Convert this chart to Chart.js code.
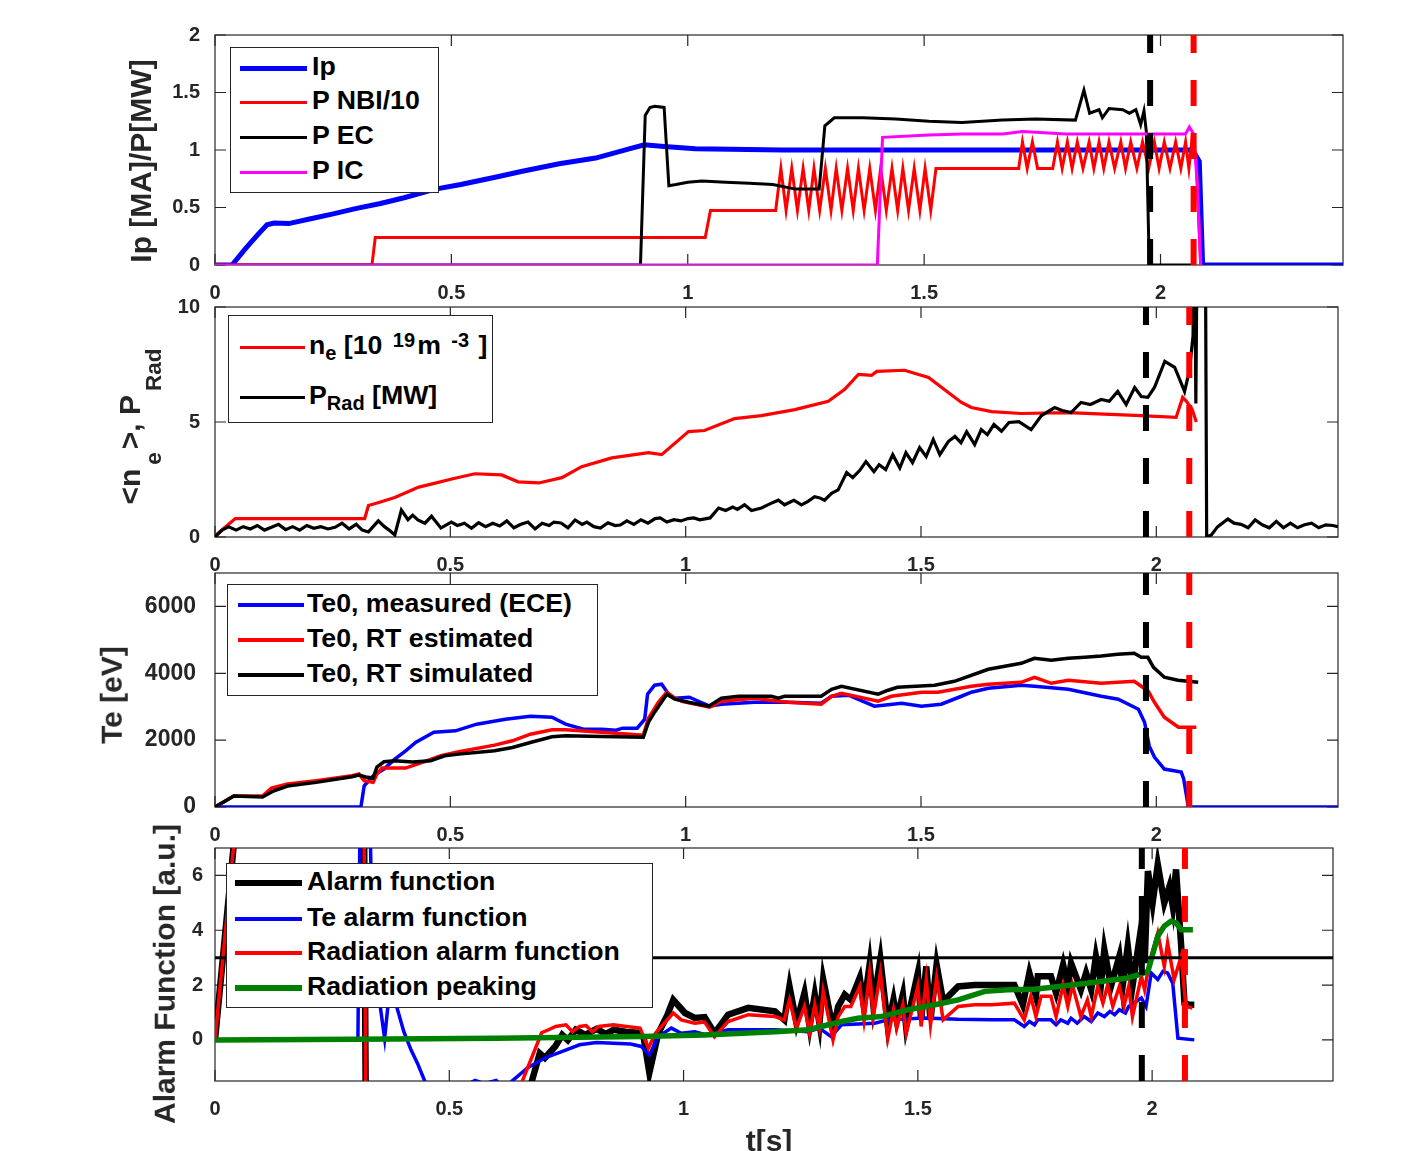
<!DOCTYPE html>
<html>
<head>
<meta charset="utf-8">
<script src="https://cdn.jsdelivr.net/npm/chart.js@4.4.1/dist/chart.umd.min.js"></script>
<style>
  body { margin: 0; background: #fff; width: 1409px; height: 1151px; overflow: hidden; position: relative;
         font-family: "Liberation Sans", Arial, Helvetica, sans-serif; }
  canvas { position: absolute; left: 0; }
  .legend { position: absolute; background: #fff; border: 1.5px solid #262626; box-sizing: border-box; z-index: 5; }
  .swatch { position: absolute; z-index: 6; }
  .row { position: absolute; z-index: 6; height: 34px; line-height: 34px; font-weight: bold; font-size: 26.7px;
         color: #000; white-space: nowrap; }
  .row sub, .row sup { font-size: 0.75em; position: relative; vertical-align: baseline; line-height: 0; }
  .row sub { top: 0.32em; }
  .row sup { top: -0.34em; margin: 0 2px 0 3px; }
  .title { position: absolute; font-weight: bold; font-size: 30px; line-height: 1.15; color: #262626;
           white-space: nowrap; transform: translate(-50%, -50%) rotate(-90deg); z-index: 4; }
  .title sub { font-size: 0.75em; position: relative; vertical-align: baseline; top: 0.95em; line-height: 0;
               margin: 0 3px 0 4px; }
  .xtitle { position: absolute; font-weight: bold; font-size: 30px; line-height: 1.15; color: #262626;
            white-space: nowrap; transform: translateX(-50%); }
</style>
</head>
<body>
<canvas id="p1" width="1409" height="305" style="top:0px"></canvas>
<canvas id="p2" width="1409" height="313" style="top:267px"></canvas>
<canvas id="p3" width="1409" height="317" style="top:533px"></canvas>
<canvas id="p4" width="1409" height="343" style="top:808px"></canvas>
<script>
// ---- data: [t (s), value] ----
const tMax = 2.386;
const xTicks = [0, 0.5, 1, 1.5, 2];
const xTickLabels = ['0', '0.5', '1', '1.5', '2'];
const alarmTime = 1.978;      // black dashed
const disruptTime = 2.07;     // red dashed

// panel 1
const p1Ticks = [0, 0.5, 1, 1.5, 2];
const ipData = [[0,0],[0.036,0],[0.064,0.14],[0.092,0.27],[0.11,0.35],[0.125,0.365],[0.156,0.36],[0.2,0.4],
  [0.25,0.445],[0.297,0.49],[0.35,0.535],[0.4,0.585],[0.466,0.66],[0.52,0.7],[0.6,0.77],[0.65,0.815],
  [0.728,0.88],[0.805,0.93],[0.876,1.01],[0.908,1.045],[0.95,1.03],[1.016,1.01],[1.2,1.0],[1.4,1.0],
  [1.6,1.0],[1.8,1.0],[2.0,1.0],[2.068,1.0],[2.082,0.9],[2.089,0],[2.386,0]];
const nbiData = [[0,0],[0.332,0],[0.339,0.24],[1.037,0.24],[1.048,0.475],[1.186,0.475],
  [1.197,0.84],[1.208,0.475],[1.220,0.84],[1.232,0.475],[1.244,0.84],[1.256,0.475],[1.267,0.84],[1.279,0.475],
  [1.291,0.84],[1.303,0.475],[1.314,0.84],[1.326,0.475],[1.338,0.84],[1.350,0.475],[1.361,0.84],[1.373,0.475],
  [1.385,0.84],[1.397,0.475],[1.408,0.84],[1.420,0.475],[1.432,0.84],[1.444,0.475],[1.455,0.84],[1.467,0.475],
  [1.479,0.84],[1.491,0.475],[1.502,0.84],[1.514,0.475],[1.525,0.84],[1.700,0.84],
  [1.708,1.07],[1.718,0.84],[1.729,1.07],[1.740,0.84],[1.772,0.84],[1.782,1.07],[1.792,0.84],[1.803,1.07],
  [1.813,0.84],[1.824,1.07],[1.836,0.84],[1.849,1.07],[1.859,0.84],[1.870,1.07],[1.880,0.84],[1.891,1.07],
  [1.903,0.84],[1.916,1.07],[1.926,0.84],[1.937,1.07],[1.950,0.84],[1.962,1.07],[1.975,0.84],[1.987,1.07],
  [1.997,0.84],[2.008,1.07],[2.020,0.84],[2.032,1.07],[2.043,0.84],[2.053,1.07],[2.060,0.84],[2.066,1.07],
  [2.075,0.95],[2.085,0]];
const ecData = [[0,0],[0.9,0],[0.91,1.3],[0.92,1.37],[0.93,1.38],[0.95,1.37],[0.96,0.69],[0.975,0.7],
  [1.0,0.72],[1.03,0.73],[1.08,0.72],[1.13,0.71],[1.18,0.7],[1.228,0.66],[1.278,0.66],[1.29,1.21],
  [1.31,1.28],[1.37,1.28],[1.44,1.27],[1.51,1.25],[1.58,1.24],[1.666,1.26],[1.736,1.27],[1.82,1.26],
  [1.838,1.52],[1.85,1.32],[1.87,1.35],[1.877,1.28],[1.891,1.36],[1.92,1.35],[1.934,1.32],[1.948,1.35],
  [1.958,1.22],[1.965,1.34],[1.97,1.16],[1.976,0.03],[1.98,0],[2.07,0]];
const icData = [[0,0],[1.401,0],[1.412,1.11],[1.51,1.13],[1.58,1.14],[1.666,1.14],[1.708,1.16],[1.8,1.14],
  [1.9,1.14],[2.053,1.14],[2.061,1.2],[2.07,1.14],[2.078,0.69],[2.085,0]];

// panel 2
const p2Ticks = [0, 5, 10];
const neData = [[0,0.05],[0.043,0.8],[0.318,0.8],[0.326,1.37],[0.348,1.5],[0.382,1.72],[0.433,2.17],[0.468,2.34],
  [0.503,2.52],[0.552,2.75],[0.609,2.7],[0.644,2.4],[0.688,2.35],[0.737,2.58],[0.779,3.06],[0.843,3.44],
  [0.921,3.67],[0.949,3.58],[1.006,4.58],[1.04,4.63],[1.104,5.15],[1.161,5.28],[1.232,5.54],[1.303,5.9],
  [1.338,6.42],[1.367,7.07],[1.395,7.03],[1.406,7.2],[1.465,7.25],[1.516,6.94],[1.558,6.28],[1.586,5.85],
  [1.607,5.63],[1.65,5.45],[1.713,5.37],[1.812,5.41],[1.967,5.28],[2.042,5.2],[2.056,6.07],[2.064,5.9],
  [2.076,5.55],[2.085,5.0]];
const pradData = [[0,0],[0.015,0.3],[0.029,0.44],[0.045,0.3],[0.06,0.45],[0.075,0.35],[0.09,0.5],[0.105,0.3],
  [0.12,0.42],[0.135,0.55],[0.15,0.32],[0.165,0.45],[0.18,0.3],[0.195,0.5],[0.21,0.38],[0.225,0.45],
  [0.24,0.35],[0.255,0.42],[0.27,0.6],[0.285,0.35],[0.3,0.55],[0.313,0.3],[0.326,0.22],[0.347,0.7],
  [0.36,0.45],[0.37,0.3],[0.382,0.09],[0.396,1.17],[0.41,0.75],[0.42,0.95],[0.431,0.74],[0.446,0.6],
  [0.46,0.9],[0.48,0.39],[0.502,0.65],[0.515,0.5],[0.53,0.6],[0.545,0.38],[0.56,0.62],[0.575,0.45],
  [0.59,0.6],[0.605,0.48],[0.62,0.7],[0.635,0.4],[0.65,0.55],[0.665,0.65],[0.68,0.35],[0.695,0.6],
  [0.71,0.5],[0.72,0.65],[0.735,0.61],[0.75,0.4],[0.765,0.74],[0.78,0.55],[0.79,0.65],[0.805,0.45],
  [0.819,0.39],[0.835,0.62],[0.85,0.5],[0.861,0.52],[0.875,0.7],[0.89,0.55],[0.905,0.75],[0.92,0.6],
  [0.935,0.8],[0.946,0.83],[0.96,0.65],[0.975,0.75],[0.99,0.7],[1.005,0.8],[1.017,0.83],[1.03,0.75],
  [1.052,0.83],[1.07,1.26],[1.085,1.15],[1.1,1.3],[1.11,1.2],[1.125,1.4],[1.14,1.15],[1.161,1.26],
  [1.18,1.45],[1.197,1.6],[1.21,1.4],[1.23,1.6],[1.246,1.4],[1.26,1.55],[1.274,1.75],[1.285,1.7],
  [1.295,1.6],[1.31,1.9],[1.324,2.05],[1.342,2.8],[1.355,2.58],[1.37,2.9],[1.383,3.28],[1.4,2.84],
  [1.411,3.14],[1.425,2.93],[1.44,3.58],[1.455,3.0],[1.468,3.67],[1.482,3.23],[1.497,3.89],[1.511,3.5],
  [1.526,4.24],[1.54,3.58],[1.558,4.15],[1.572,4.37],[1.585,4.1],[1.597,4.58],[1.614,4.02],[1.628,4.67],
  [1.641,4.45],[1.655,4.89],[1.671,4.6],[1.687,4.98],[1.708,5.02],[1.734,4.67],[1.756,5.28],[1.784,5.63],
  [1.8,5.5],[1.819,5.41],[1.84,5.85],[1.86,5.76],[1.883,5.98],[1.9,5.9],[1.918,6.33],[1.936,5.76],
  [1.954,6.5],[1.968,6.11],[1.982,6.07],[1.996,6.5],[2.018,7.64],[2.039,7.38],[2.06,6.33],[2.07,7.2],
  [2.078,8.73],[2.081,14],[2.084,5.8],[2.087,14],[2.104,14],[2.107,0],[2.117,0.09],[2.13,0.44],
  [2.152,0.78],[2.165,0.6],[2.18,0.55],[2.195,0.4],[2.21,0.74],[2.225,0.53],[2.24,0.4],[2.255,0.68],
  [2.27,0.4],[2.285,0.6],[2.3,0.4],[2.315,0.53],[2.33,0.6],[2.345,0.4],[2.36,0.53],[2.375,0.5],[2.386,0.45]];

// panel 3
const p3Ticks = [0, 2000, 4000, 6000];
const teMeas = [[0,0],[0.31,0],[0.317,636],[0.336,935],[0.359,1134],[0.382,1433],[0.405,1681],[0.427,1940],
  [0.465,2239],[0.511,2278],[0.556,2478],[0.617,2627],[0.67,2716],[0.716,2687],[0.745,2478],[0.783,2328],
  [0.822,2328],[0.852,2298],[0.866,2358],[0.897,2358],[0.913,2627],[0.919,3373],[0.934,3642],[0.949,3672],
  [0.964,3373],[0.977,3254],[1.008,3284],[1.027,3164],[1.051,3015],[1.076,3075],[1.146,3134],[1.218,3134],
  [1.288,3104],[1.31,3313],[1.346,3343],[1.401,3015],[1.459,3104],[1.501,3015],[1.543,3075],[1.586,3313],
  [1.607,3433],[1.643,3552],[1.713,3642],[1.741,3612],[1.813,3522],[1.883,3313],[1.919,3224],[1.962,2925],
  [1.975,2537],[1.985,1821],[1.996,1493],[2.017,1134],[2.053,1045],[2.058,850],[2.068,0],[2.386,0]];
const teEst = [[0,0],[0.04,330],[0.101,330],[0.12,567],[0.154,687],[0.215,787],[0.291,935],[0.306,985],
  [0.317,787],[0.336,737],[0.344,985],[0.355,1164],[0.405,1164],[0.442,1343],[0.48,1532],[0.518,1651],
  [0.594,1851],[0.632,1980],[0.67,2179],[0.716,2308],[0.745,2308],[0.822,2239],[0.91,2150],[0.921,2657],
  [0.942,3134],[0.96,3433],[0.974,3284],[0.992,3164],[1.051,2985],[1.076,3164],[1.146,3254],[1.197,3164],
  [1.218,3134],[1.288,3075],[1.31,3313],[1.331,3403],[1.409,3164],[1.437,3313],[1.501,3433],[1.536,3433],
  [1.607,3612],[1.643,3672],[1.713,3731],[1.741,3881],[1.777,3701],[1.813,3791],[1.883,3701],[1.953,3761],
  [1.962,3672],[1.983,3463],[1.996,3134],[2.017,2687],[2.047,2388],[2.085,2388]];
const teSim = [[0,0],[0.04,330],[0.101,300],[0.124,478],[0.154,627],[0.215,737],[0.291,905],[0.306,955],
  [0.32,896],[0.336,866],[0.344,1194],[0.359,1353],[0.382,1383],[0.42,1343],[0.458,1383],[0.488,1532],
  [0.518,1582],[0.594,1681],[0.632,1781],[0.67,1930],[0.716,2099],[0.745,2129],[0.822,2109],[0.91,2089],
  [0.921,2537],[0.934,2836],[0.96,3373],[0.977,3224],[1.006,3134],[1.049,3015],[1.076,3254],[1.112,3313],
  [1.182,3313],[1.197,3254],[1.21,3313],[1.288,3313],[1.31,3522],[1.331,3612],[1.409,3373],[1.43,3493],
  [1.45,3582],[1.529,3642],[1.571,3761],[1.643,4119],[1.713,4298],[1.741,4448],[1.777,4388],[1.813,4448],
  [1.848,4478],[1.883,4517],[1.918,4567],[1.953,4597],[1.968,4478],[1.982,4478],[1.994,4179],[2.017,3881],
  [2.046,3791],[2.089,3731]];

// panel 4
const p4Ticks = [0, 2, 4, 6];
const threshold = 3;
const alarmData = [[0,0],[0.045,8],[0.318,8],[0.322,-3],[0.668,-2],[0.693,-0.49],[0.704,-0.66],[0.726,-0.24],
  [0.741,0.18],[0.753,-0.01],[0.77,0.37],[0.79,0.18],[0.814,0.4],[0.834,0.22],[0.851,0.37],[0.878,0.29],
  [0.902,0.26],[0.915,0.08],[0.927,-1.2],[0.946,0.24],[0.964,0.85],[0.978,1.46],[1.003,0.98],[1.024,0.8],
  [1.045,0.83],[1.066,0.24],[1.095,0.92],[1.138,1.17],[1.195,1.04],[1.215,0.73],[1.226,1.95],[1.241,0.61],
  [1.258,1.71],[1.269,0.49],[1.28,1.65],[1.29,0.6],[1.298,2.2],[1.319,0.37],[1.33,1.22],[1.344,1.65],
  [1.357,1.46],[1.376,2.27],[1.385,1.22],[1.397,2.74],[1.405,1.28],[1.42,2.93],[1.436,0.49],[1.448,1.46],
  [1.455,0.73],[1.468,1.65],[1.475,0.49],[1.5,2.44],[1.507,0.73],[1.518,2.68],[1.527,0.73],[1.54,2.74],
  [1.554,1.4],[1.586,1.95],[1.621,2.0],[1.657,2.0],[1.706,2.0],[1.724,1.28],[1.738,2.44],[1.752,1.59],
  [1.756,2.32],[1.784,2.32],[1.795,1.71],[1.81,2.74],[1.82,1.95],[1.827,2.8],[1.848,1.83],[1.859,2.44],
  [1.87,1.83],[1.88,3.05],[1.891,2.07],[1.898,3.29],[1.912,1.95],[1.93,3.05],[1.937,1.95],[1.948,3.42],
  [1.958,1.95],[1.977,4.15],[1.984,2.8],[1.991,6.16],[2.001,5.0],[2.012,6.4],[2.026,5.0],[2.037,5.6],
  [2.044,4.88],[2.051,6.22],[2.062,3.42],[2.069,1.34],[2.079,1.28],[2.09,1.28]];
const teAlarm = [[0,0],[0.305,0],[0.31,9],[0.33,9],[0.336,3],[0.352,1.3],[0.362,0.05],[0.37,1.4],
  [0.378,1.6],[0.388,1.2],[0.403,0.3],[0.418,-0.35],[0.432,-0.85],[0.45,-1.6],[0.48,-1.9],[0.53,-1.7],
  [0.555,-1.48],[0.575,-1.6],[0.6,-1.48],[0.62,-1.8],[0.634,-1.5],[0.667,-1.02],[0.704,-0.66],[0.74,-0.43],
  [0.778,-0.18],[0.814,-0.1],[0.851,-0.12],[0.887,-0.15],[0.91,-0.24],[0.927,-0.55],[0.946,0.12],
  [0.974,0.43],[0.995,0.24],[1.024,0.3],[1.045,0.2],[1.066,0.24],[1.095,0.37],[1.138,0.37],[1.195,0.37],
  [1.266,0.3],[1.29,0.43],[1.315,0.12],[1.337,0.55],[1.408,0.61],[1.436,0.73],[1.514,0.8],[1.586,0.75],
  [1.657,0.73],[1.706,0.73],[1.727,0.49],[1.738,0.67],[1.749,0.55],[1.756,0.73],[1.784,0.73],[1.795,0.55],
  [1.805,0.73],[1.82,0.61],[1.827,0.79],[1.84,0.61],[1.855,0.85],[1.87,0.67],[1.884,0.98],[1.898,0.85],
  [1.91,1.04],[1.92,0.92],[1.93,1.1],[1.943,0.98],[1.95,1.22],[1.977,1.53],[1.987,1.22],[1.998,2.44],
  [2.012,2.2],[2.023,2.5],[2.033,2.44],[2.044,2.07],[2.055,0.06],[2.09,0]];
const radAlarm = [[0,0],[0.045,8],[0.318,8],[0.322,-3],[0.645,-2.5],[0.656,-1.5],[0.697,0.26],[0.712,0.37],
  [0.727,0.49],[0.749,0.55],[0.763,0.3],[0.778,0.49],[0.792,0.52],[0.805,0.3],[0.819,0.49],[0.85,0.55],
  [0.878,0.49],[0.907,0.43],[0.925,-0.3],[0.94,0.24],[0.978,0.98],[0.995,0.73],[1.024,0.61],[1.045,0.65],
  [1.066,0.12],[1.095,0.67],[1.138,0.92],[1.195,0.85],[1.215,0.73],[1.226,1.46],[1.241,0.43],[1.258,1.22],
  [1.269,0.24],[1.28,1.28],[1.29,0.43],[1.298,1.77],[1.319,0.0],[1.33,0.85],[1.344,1.22],[1.357,1.22],
  [1.376,1.95],[1.385,0.73],[1.397,2.44],[1.405,0.85],[1.42,2.44],[1.436,0.06],[1.448,1.1],[1.455,0.43],
  [1.468,1.28],[1.475,0.24],[1.5,1.95],[1.507,0.49],[1.518,2.2],[1.527,0.55],[1.54,2.26],[1.554,0.73],
  [1.586,1.22],[1.621,1.28],[1.657,1.28],[1.706,1.34],[1.727,0.73],[1.741,1.59],[1.752,0.85],[1.763,1.59],
  [1.784,1.59],[1.795,0.85],[1.81,2.0],[1.82,1.22],[1.83,2.0],[1.848,0.85],[1.862,1.46],[1.87,0.85],
  [1.884,1.95],[1.895,1.34],[1.905,2.0],[1.916,1.22],[1.93,1.95],[1.94,1.22],[1.95,1.95],[1.958,0.85],
  [1.977,2.32],[1.984,1.83],[1.994,2.8],[2.012,3.9],[2.026,2.68],[2.033,3.54],[2.047,2.2],[2.062,3.05],
  [2.072,1.22],[2.086,1.16]];
const radPeak = [[0,0],[0.3,0.02],[0.6,0.06],[0.91,0.12],[1.045,0.18],[1.195,0.3],[1.266,0.37],[1.337,0.67],
  [1.372,0.79],[1.422,0.85],[1.479,1.1],[1.536,1.28],[1.586,1.46],[1.643,1.77],[1.692,1.83],[1.749,1.85],
  [1.82,1.98],[1.891,2.13],[1.948,2.26],[1.977,2.41],[1.991,2.5],[2.001,3.11],[2.012,3.78],[2.026,4.15],
  [2.04,4.33],[2.051,4.27],[2.062,4.02],[2.087,4.02]];

// ---- helpers ----
const BLUE = '#0000ff', RED = '#ff0000', BLACK = '#000000', MAGENTA = '#ff00ff', GREEN = '#008000';
const tickFont = { family: '"Liberation Sans", Arial, sans-serif', size: 20, weight: 'bold' };
const wideTickFont = { family: '"Liberation Sans", Arial, sans-serif', size: 23, weight: 'bold' };

function xy(pts) { return pts.map(p => ({ x: p[0], y: p[1] })); }

function series(pts, color, width) {
  return { data: xy(pts), borderColor: color, borderWidth: width, pointRadius: 0, tension: 0, fill: false };
}

function eventLine(t, yMin, yMax, color) {
  return { data: [{ x: t, y: yMin }, { x: t, y: yMax }], borderColor: color, borderWidth: 6,
           borderDash: [26, 27], pointRadius: 0, fill: false };
}

// MATLAB style box with inward ticks on all four sides
const boxPlugin = {
  id: 'matlabBox',
  beforeDatasetsDraw(chart) {
    const { ctx, chartArea: a, scales } = chart;
    const tl = 11;
    ctx.save();
    ctx.strokeStyle = '#262626';
    ctx.lineWidth = 1.2;
    ctx.strokeRect(a.left, a.top, a.right - a.left, a.bottom - a.top);
    ctx.beginPath();
    scales.x.ticks.forEach(t => {
      const px = scales.x.getPixelForValue(t.value);
      ctx.moveTo(px, a.bottom); ctx.lineTo(px, a.bottom - tl);
      ctx.moveTo(px, a.top); ctx.lineTo(px, a.top + tl);
    });
    scales.y.ticks.forEach(t => {
      const py = scales.y.getPixelForValue(t.value);
      ctx.moveTo(a.left, py); ctx.lineTo(a.left + tl, py);
      ctx.moveTo(a.right, py); ctx.lineTo(a.right - tl, py);
    });
    ctx.stroke();
    ctx.restore();
  }
};

function makePanel(id, datasets, yMin, yMax, yTicks, pad, xHeight, yPad, yFont) {
  return new Chart(document.getElementById(id), {
    type: 'line',
    data: { datasets: datasets },
    plugins: [boxPlugin],
    options: {
      responsive: false,
      animation: false,
      events: [],
      layout: { padding: { top: pad.top, right: pad.right, left: 0, bottom: 0 } },
      plugins: { legend: { display: false }, tooltip: { enabled: false } },
      scales: {
        x: {
          type: 'linear', min: 0, max: tMax,
          grid: { display: false, drawTicks: false }, border: { display: false },
          afterBuildTicks: s => { s.ticks = xTicks.map(v => ({ value: v })); },
          afterFit: s => { s.height = xHeight; },
          ticks: { font: tickFont, color: '#262626', padding: 16, maxRotation: 0, autoSkip: false,
                   callback: (v, i) => xTickLabels[i] }
        },
        y: {
          type: 'linear', min: yMin, max: yMax,
          grid: { display: false, drawTicks: false }, border: { display: false },
          afterBuildTicks: s => { s.ticks = yTicks.map(v => ({ value: v })); },
          afterFit: s => { s.width = 215; },
          ticks: { font: yFont || tickFont, color: '#262626', padding: yPad, autoSkip: false,
                   callback: v => String(v) }
        }
      }
    }
  });
}

// ---- panels (first dataset is drawn on top) ----
makePanel('p1', [
  eventLine(alarmTime, 0, 2, BLACK),
  eventLine(disruptTime, 0, 2, RED),
  series(icData, MAGENTA, 3),
  series(ecData, BLACK, 3),
  series(nbiData, RED, 3),
  series(ipData, BLUE, 5)
], 0, 2, p1Ticks, { top: 35, right: 66 }, 40, 15);

makePanel('p2', [
  eventLine(alarmTime, 0, 10, BLACK),
  eventLine(disruptTime, 0, 10, RED),
  series(pradData, BLACK, 3.2),
  series(neData, RED, 3.2)
], 0, 10, p2Ticks, { top: 40, right: 71 }, 43, 15);

makePanel('p3', [
  eventLine(alarmTime, 0, 7000, BLACK),
  eventLine(disruptTime, 0, 7000, RED),
  series(teSim, BLACK, 3.5),
  series(teEst, RED, 3.5),
  series(teMeas, BLUE, 3.5)
], 0, 7000, p3Ticks, { top: 40, right: 71 }, 43, 19, wideTickFont);

makePanel('p4', [
  eventLine(alarmTime, -1.5, 7, BLACK),
  eventLine(disruptTime, -1.5, 7, RED),
  series([[0, threshold], [tMax, threshold]], BLACK, 3),
  series(radPeak, GREEN, 5.5),
  series(radAlarm, RED, 3.5),
  series(teAlarm, BLUE, 3.5),
  series(alarmData, BLACK, 6.5)
], -1.5, 7, p4Ticks, { top: 40, right: 76 }, 70, 12);

// ---- legends (HTML so sub/superscripts render) ----
const legends = [
  { box: [230, 47, 209, 146], x1: 240, x2: 307, tx: 312, rows: [
    [68, BLUE, 5, 'Ip'], [102, RED, 3, 'P NBI/10'], [137, BLACK, 3, 'P EC'], [172, MAGENTA, 3, 'P IC']] },
  { box: [228, 315, 265, 108], x1: 240, x2: 305, tx: 309, rows: [
    [347, RED, 3, 'n<sub>e</sub> [10 <sup>19</sup>m <sup>-3</sup> ]'],
    [397, BLACK, 3, 'P<sub>Rad</sub> [MW]']] },
  { box: [227, 584, 371, 112], x1: 238, x2: 304, tx: 307, rows: [
    [605, BLUE, 3.5, 'Te0, measured (ECE)'], [640, RED, 3.5, 'Te0, RT estimated'],
    [675, BLACK, 3.5, 'Te0, RT simulated']] },
  { box: [226, 863, 427, 145], x1: 235, x2: 302, tx: 307, rows: [
    [883, BLACK, 6, 'Alarm function'], [919, BLUE, 3.5, 'Te alarm function'],
    [953, RED, 3.5, 'Radiation alarm function'], [988, GREEN, 6, 'Radiation peaking']] }
];

legends.forEach(lg => {
  const b = document.createElement('div');
  b.className = 'legend';
  b.style.left = lg.box[0] + 'px'; b.style.top = lg.box[1] + 'px';
  b.style.width = lg.box[2] + 'px'; b.style.height = lg.box[3] + 'px';
  document.body.appendChild(b);
  lg.rows.forEach(r => {
    const s = document.createElement('div');
    s.className = 'swatch';
    s.style.left = lg.x1 + 'px'; s.style.width = (lg.x2 - lg.x1) + 'px';
    s.style.top = (r[0] - r[2] / 2) + 'px'; s.style.height = r[2] + 'px';
    s.style.background = r[1];
    document.body.appendChild(s);
    const t = document.createElement('div');
    t.className = 'row';
    t.style.left = lg.tx + 'px'; t.style.top = (r[0] - 19) + 'px';
    t.innerHTML = r[3];
    document.body.appendChild(t);
  });
});

// ---- axis titles ----
const titles = [
  [141, 161, 'Ip [MA]/P[MW]'],
  [130, 425, '&lt;n<sub>e</sub>&gt;, P<sub>Rad</sub>'],
  [112, 695, 'Te [eV]'],
  [165, 974, 'Alarm Function [a.u.]']
];
titles.forEach(t => {
  const d = document.createElement('div');
  d.className = 'title';
  d.style.left = t[0] + 'px'; d.style.top = t[1] + 'px';
  d.innerHTML = t[2];
  document.body.appendChild(d);
});
const xt = document.createElement('div');
xt.className = 'xtitle';
xt.style.left = '769px'; xt.style.top = '1124px';
xt.textContent = 't[s]';
document.body.appendChild(xt);
</script>
</body>
</html>
